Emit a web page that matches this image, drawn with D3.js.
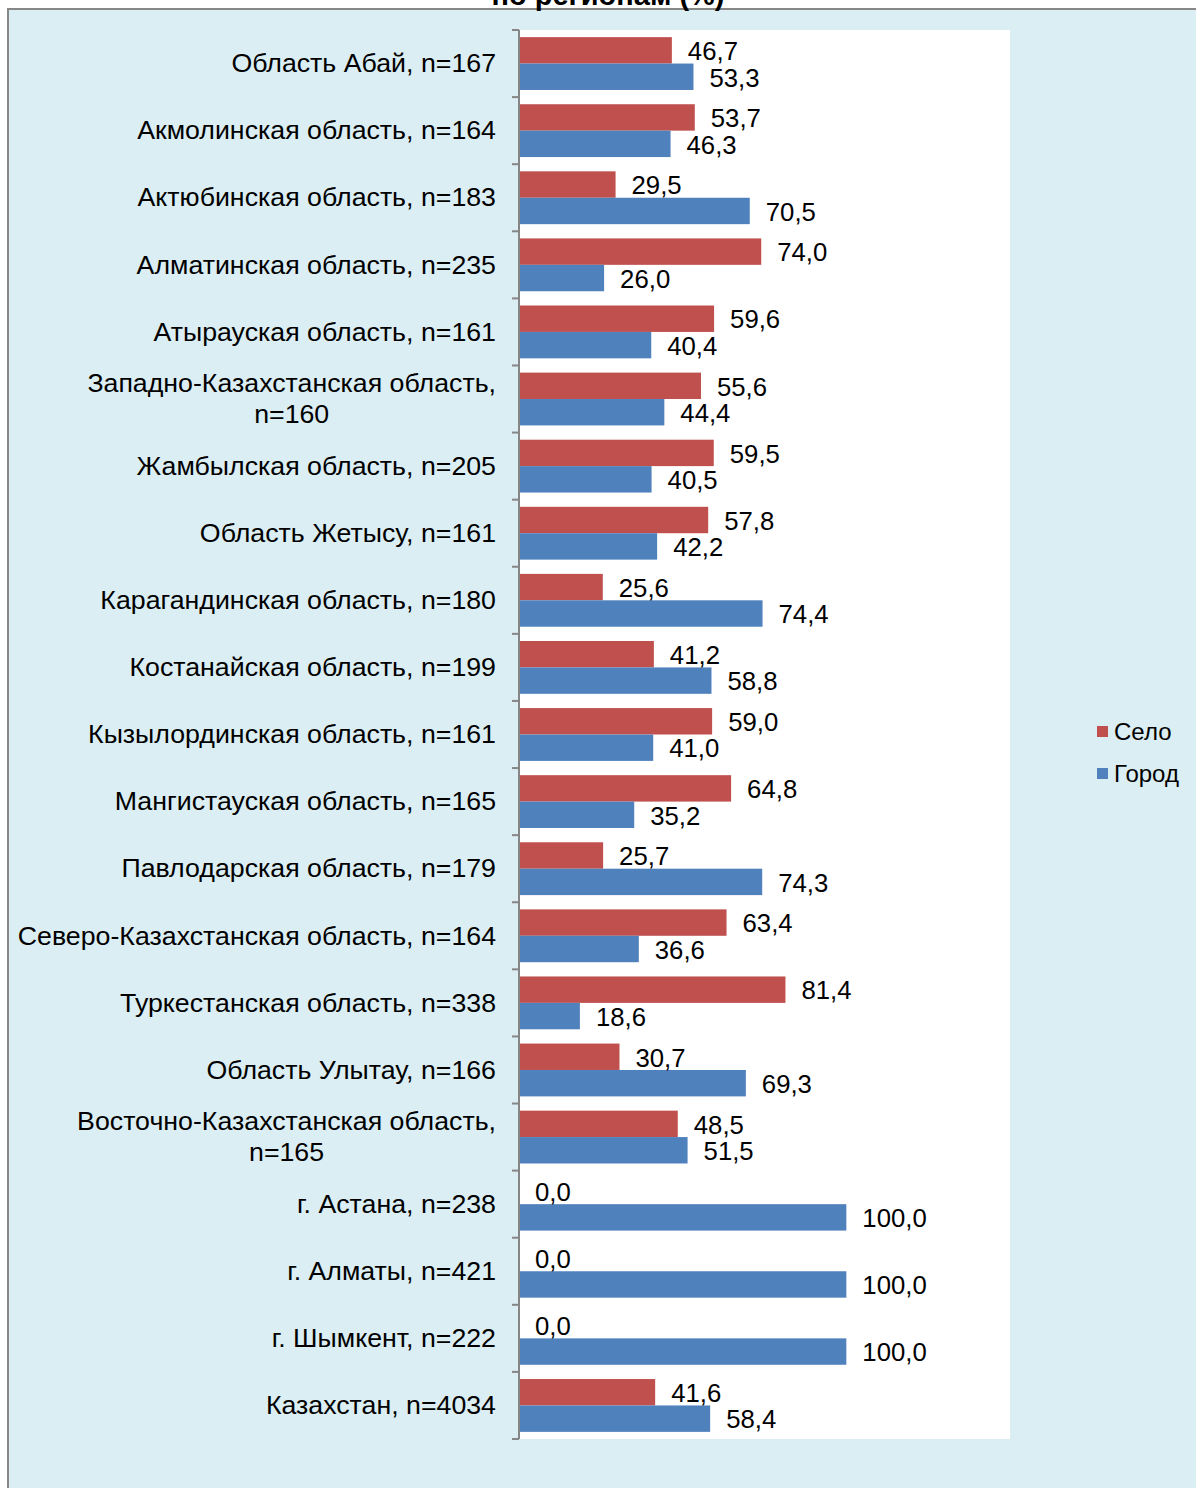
<!DOCTYPE html>
<html>
<head>
<meta charset="utf-8">
<script src="https://cdn.jsdelivr.net/npm/d3@7"></script>
<style>
  body { margin: 0; background: #fff; }
  text { font-family: "Liberation Sans", Arial, sans-serif; fill: #000; }
</style>
</head>
<body>
<div id="chart"></div>
<script>
const width = 1196, height = 1488;

// categories (regions), "\n" = line break as in the original
const regions = [
    "Область Абай, n=167",
    "Акмолинская область, n=164",
    "Актюбинская область, n=183",
    "Алматинская область, n=235",
    "Атырауская область, n=161",
    "Западно-Казахстанская область,\nn=160",
    "Жамбылская область, n=205",
    "Область Жетысу, n=161",
    "Карагандинская область, n=180",
    "Костанайская область, n=199",
    "Кызылординская область, n=161",
    "Мангистауская область, n=165",
    "Павлодарская область, n=179",
    "Северо-Казахстанская область, n=164",
    "Туркестанская область, n=338",
    "Область Улытау, n=166",
    "Восточно-Казахстанская область,\nn=165",
    "г. Астана, n=238",
    "г. Алматы, n=421",
    "г. Шымкент, n=222",
    "Казахстан, n=4034"
];
const selo  = [46.7, 53.7, 29.5, 74.0, 59.6, 55.6, 59.5, 57.8, 25.6, 41.2, 59.0, 64.8, 25.7, 63.4, 81.4, 30.7, 48.5, 0.0, 0.0, 0.0, 41.6];
const gorod = [53.3, 46.3, 70.5, 26.0, 40.4, 44.4, 40.5, 42.2, 74.4, 58.8, 41.0, 35.2, 74.3, 36.6, 18.6, 69.3, 51.5, 100.0, 100.0, 100.0, 58.4];
const seriesNames = ["Село", "Город"];
const seriesColors = ["#C0504D", "#4F81BD"];

const plot = {left: 519, right: 1010, top: 30, bottom: 1439};

let svg = d3.select("#chart")
    .append("svg")
    .attr("width", width)
    .attr("height", height);

// chart area background
svg.append("rect")
    .attr("x", 8).attr("y", 9)
    .attr("width", width).attr("height", height)
    .style("fill", "#DBEEF3")
    .style("stroke", "#878787")
    .style("stroke-width", 2);

// title (cut off at the top, as in the source)
svg.append("text")
    .attr("x", 608).attr("y", 5)
    .style("text-anchor", "middle")
    .style("font-size", "29px")
    .style("font-weight", "bold")
    .text("по регионам (%)");

// plot area
svg.append("rect")
    .attr("x", plot.left).attr("y", plot.top)
    .attr("width", plot.right - plot.left).attr("height", plot.bottom - plot.top)
    .style("fill", "#fff");

let x = d3.scaleLinear()
    .domain([0, 150])
    .range([plot.left, plot.right]);

let y = d3.scaleBand()
    .domain(d3.range(regions.length))
    .range([plot.top, plot.bottom])
    .padding(0);

let ySub = d3.scaleBand()
    .domain([0, 1])
    .range([0, y.bandwidth()])
    .paddingInner(0)
    .paddingOuter(0.27);

let rows = regions.map((r, i) => ({i: i, label: r, values: [selo[i], gorod[i]]}));
let fmt = v => d3.format(".1f")(v).replace(".", ",");

// bars
let groups = svg.selectAll(".row")
    .data(rows)
    .enter()
    .append("g")
    .attr("class", "row")
    .attr("transform", d => `translate(0, ${y(d.i)})`);

groups.selectAll("rect")
    .data(d => d.values.map((v, s) => ({v: v, s: s})))
    .enter()
    .append("rect")
    .attr("x", x(0))
    .attr("y", d => ySub(d.s))
    .attr("width", d => x(d.v) - x(0))
    .attr("height", ySub.bandwidth())
    .style("fill", d => seriesColors[d.s]);

// value labels
groups.selectAll(".val")
    .data(d => d.values.map((v, s) => ({v: v, s: s})))
    .enter()
    .append("text")
    .attr("class", "val")
    .attr("transform", d => `translate(${x(d.v) + 16}, ${ySub(d.s) + ySub.bandwidth() / 2 + 1}) scale(1.03,1)`)
    .attr("dy", "0.35em")
    .style("font-size", "25px")
    .text(d => fmt(d.v));

// y axis: line plus ticks between categories
let axis = svg.append("g").attr("class", "axis");
axis.append("line")
    .attr("x1", plot.left).attr("x2", plot.left)
    .attr("y1", plot.top).attr("y2", plot.bottom)
    .style("stroke", "#868686").style("stroke-width", 2);
axis.selectAll(".tick")
    .data(d3.range(regions.length + 1))
    .enter()
    .append("line")
    .attr("x1", plot.left - 7).attr("x2", plot.left)
    .attr("y1", d => d < regions.length ? y(d) : plot.bottom)
    .attr("y2", d => d < regions.length ? y(d) : plot.bottom)
    .style("stroke", "#868686").style("stroke-width", 2);

// category labels (wrapped ones are centred as a block, block right-aligned)
let lbl = svg.selectAll(".cat")
    .data(rows)
    .enter()
    .append("text")
    .attr("class", "cat")
    .style("font-size", "25px")
    .attr("transform", d => `translate(496, ${y(d.i) + y.bandwidth() / 2}) scale(1.07,1)`);

lbl.each(function(d) {
    let lines = d.label.split("\n");
    let lh = 31;
    let t = d3.select(this);
    let spans = t.selectAll("tspan")
        .data(lines)
        .enter()
        .append("tspan")
        .attr("y", (l, k) => (k - (lines.length - 1) / 2) * lh)
        .attr("dy", "0.35em")
        .text(l => l);
    let maxW = d3.max(spans.nodes(), n => n.getComputedTextLength());
    t.style("text-anchor", "middle");
    spans.attr("x", -maxW / 2);
});

// legend
let legend = svg.selectAll(".legend")
    .data(seriesNames)
    .enter()
    .append("g")
    .attr("class", "legend")
    .attr("transform", (d, i) => `translate(1097, ${732 + i * 42})`);
legend.append("rect")
    .attr("x", 0).attr("y", -6)
    .attr("width", 11).attr("height", 11)
    .style("fill", (d, i) => seriesColors[i]);
legend.append("text")
    .attr("x", 17).attr("y", 0)
    .attr("dy", "0.35em")
    .style("font-size", "24px")
    .text(d => d);
</script>
</body>
</html>
